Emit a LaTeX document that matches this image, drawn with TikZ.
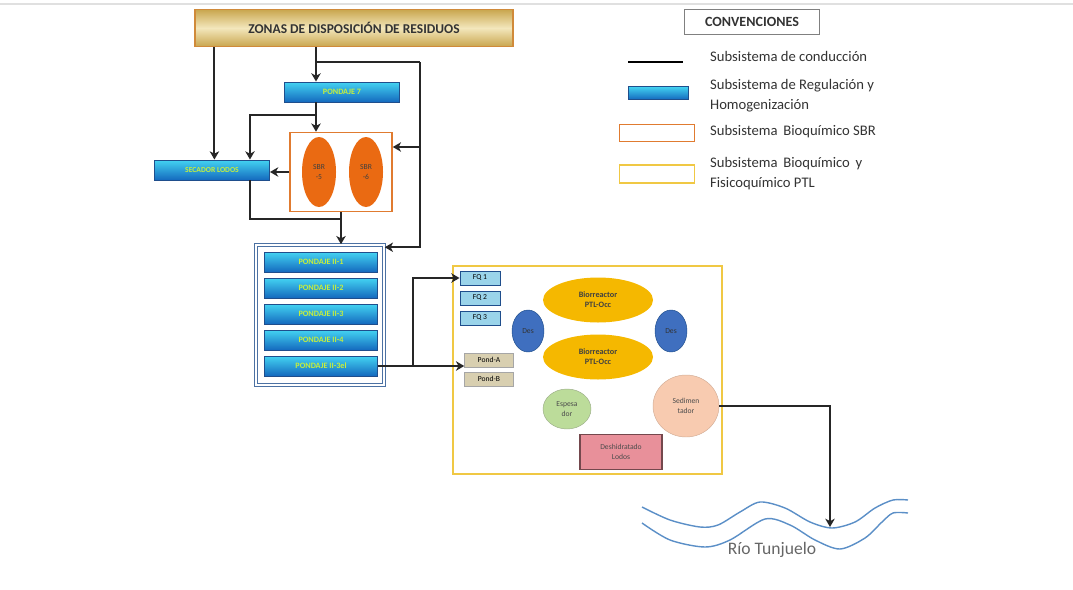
\documentclass[tikz,border=0pt]{standalone}
\usepackage{fontspec}
\setmainfont{Carlito}
\usepackage{xcolor}
\usetikzlibrary{arrows.meta,shapes,calc,positioning}
\definecolor{khakiL}{HTML}{F3E7BC}
\definecolor{khakiD}{HTML}{C9A64E}
\definecolor{titleln}{HTML}{D08A3A}
\definecolor{regTop}{HTML}{43D3F2}
\definecolor{regBot}{HTML}{1469BE}
\definecolor{regLn}{HTML}{1F4E8C}
\definecolor{regTxt}{HTML}{C6EE3C}
\definecolor{sbrLn}{HTML}{E07B30}
\definecolor{sbrFill}{HTML}{EA6A12}
\definecolor{ptlLn}{HTML}{F0C844}
\definecolor{fqFill}{HTML}{9AD4EA}
\definecolor{pondFill}{HTML}{D8CFB0}
\definecolor{bioFill}{HTML}{F5B800}
\definecolor{desFill}{HTML}{3F6FBF}
\definecolor{espFill}{HTML}{BCDC9A}
\definecolor{sedFill}{HTML}{F8CBB0}
\definecolor{deshFill}{HTML}{E8909A}
\definecolor{river}{HTML}{5B8FC7}

\tikzset{
  conn/.style={line width=1.6pt, black!85, >={Stealth[length=7pt, width=8pt, inset=2pt]}},
  regbox/.style={draw=regLn, line width=0.8pt, top color=regTop, bottom color=regBot,
    text=regTxt, font=\bfseries\fontsize{7}{8}\selectfont, inner sep=1pt},
  sbrell/.style={ellipse, fill=sbrFill, text=black!75, align=center, minimum width=1.02cm,
    minimum height=2.1cm, font=\fontsize{6.5}{8}\selectfont, inner sep=0pt},
  ptlell/.style={ellipse, align=center, inner sep=0pt, font=\fontsize{6.5}{8}\selectfont},
  smallbox/.style={minimum width=1.2cm, minimum height=0.42cm, inner sep=0pt,
    font=\fontsize{6.5}{7}\selectfont},
  legtext/.style={anchor=west, align=left, text=black!80, font=\fontsize{12.5}{17}\selectfont}
}

\begin{document}
\begin{tikzpicture}[x=0.03cm, y=-0.03cm]
\useasboundingbox (0,0) rectangle (1073,589);
\draw[black!12, line width=2pt] (0,4) -- (1073,4);

% zonas y pondaje 7
\node[draw=titleln, line width=1pt, top color=khakiD, bottom color=khakiD, middle color=khakiL,
  minimum width=9.54cm, minimum height=1.11cm, font=\bfseries\fontsize{11.5}{12}\selectfont,
  text=black!80] (zonas) at (354,28) {ZONAS DE DISPOSICIÓN DE RESIDUOS};
\node[regbox, minimum width=3.45cm, minimum height=0.6cm] (p7) at (342,92) {PONDAJE 7};

% SBR
\node[draw=sbrLn, line width=1.3pt, fill=white, minimum width=3.06cm, minimum height=2.37cm] (sbr) at (341,172) {};
\node[sbrell] (sbr5) at (319,172) {SBR\\-5};
\node[sbrell] (sbr6) at (366,172) {SBR\\-6};
\node[regbox, minimum width=3.45cm, minimum height=0.6cm, font=\bfseries\fontsize{6.5}{7}\selectfont] (secador) at (212,170) {SECADOR LODOS};

% pondajes II
\node[draw=regLn!80, line width=1.3pt, double=white, double distance=1.2pt, fill=white,
  minimum width=3.84cm, minimum height=4.2cm] (pii) at (320,315) {};
\foreach \i/\y in {1/262,2/288,3/314,4/340}
  \node[regbox, minimum width=3.39cm, minimum height=0.6cm] (pii\i) at (321,\y) {PONDAJE II-\i};
\node[regbox, minimum width=3.39cm, minimum height=0.6cm] (pii5) at (321,366) {PONDAJE II-3el};

% PTL
\node[draw=ptlLn, line width=1.8pt, minimum width=8.07cm, minimum height=6.24cm] (ptl) at (587.5,370) {};
\foreach \i/\y in {1/278,2/298,3/318}
  \node[smallbox, draw=regLn, line width=0.8pt, fill=fqFill] (fq\i) at (480,\y) {FQ \i};
\node[smallbox, minimum width=1.47cm, draw=black!35, fill=pondFill] (pA) at (489,360) {Pond-A};
\node[smallbox, minimum width=1.47cm, draw=black!35, fill=pondFill] (pB) at (489,379) {Pond-B};
\node[ptlell, fill=bioFill, minimum width=3.3cm, minimum height=1.35cm, font=\bfseries\fontsize{7}{8.5}\selectfont,
  text=black!75] (bio1) at (598,300) {Biorreactor\\PTL-Occ};
\node[ptlell, fill=bioFill, minimum width=3.3cm, minimum height=1.35cm, font=\bfseries\fontsize{7}{8.5}\selectfont,
  text=black!75] (bio2) at (598,357) {Biorreactor\\PTL-Occ};
\node[ptlell, fill=desFill, draw=regLn, minimum width=0.96cm, minimum height=1.26cm, text=black!80] (des1) at (528,331) {Des};
\node[ptlell, fill=desFill, draw=regLn, minimum width=0.96cm, minimum height=1.26cm, text=black!80] (des2) at (671,331) {Des};
\node[ptlell, fill=espFill, draw=espFill!70!black!80, minimum width=1.44cm, minimum height=1.2cm,
  text=black!70] (esp) at (567,409) {Espesa\\dor};
\node[ptlell, fill=sedFill, draw=sedFill!85!black, minimum width=1.98cm, minimum height=1.86cm,
  text=black!70] (sed) at (686,406) {Sedimen\\tador};
\node[draw=deshFill!50!black, line width=1pt, fill=deshFill, minimum width=2.46cm, minimum height=1.05cm,
  align=center, inner sep=1pt, font=\fontsize{6.5}{8}\selectfont, text=black!70] (desh) at (621,452) {Deshidratado\\Lodos};

% conexiones
\coordinate (c7) at ([xshift=-0.78cm]p7.north);
\coordinate (rt) at (420,62);
\coordinate (br) at (250,115);
\coordinate (jn) at (341,219);
\coordinate (sp) at (413,280);
\coordinate (rv) at (830,527);
\draw[conn,->] ([xshift=0.6cm]zonas.south west) -- ([xshift=0.6cm]zonas.south west |- secador.north);
\draw[conn,->] (zonas.south -| c7) -- (c7);
\draw[conn] (rt -| c7) -- (rt);
\draw[conn,->] (rt) |- ([yshift=0.75cm]sbr.east);
\draw[conn,->] (rt) |- ([yshift=-0.09cm]pii.north east);
\draw[conn,->] (c7 |- p7.south) -- (c7 |- sbr.north);
\draw[conn,->] (c7 |- br) -| ([xshift=-0.6cm]secador.north east);
\draw[conn,->] (sbr.west) -- (sbr.west -| secador.east);
\draw[conn] ([xshift=-0.6cm]secador.south east) |- (jn);
\draw[conn,->] (sbr.south) -- (sbr.south |- pii.north);
\draw[conn,->] (pii5.east) -- (pii5.east -| pA.west);
\draw[conn,->] (pii5.east -| sp) -- (sp |- fq1.west) -- (fq1.west);
\draw[conn,->] (sed.east) -| (rv);

% rio
\draw[river, line width=1.2pt] plot[smooth] coordinates {(642,507) (670,520) (700,527) (718,525) (740,512)
  (760,502) (785,508) (810,522) (832,528) (855,522) (875,508) (893,500) (908,500)};
\draw[river, line width=1.2pt] plot[smooth] coordinates {(642,523) (670,540) (705,547) (730,540) (765,519)
  (790,525) (815,540) (840,549) (865,538) (882,522) (893,513) (908,513)};
\node[text=black!60, font=\fontsize{15}{16}\selectfont] (rio) at (772,550) {Río Tunjuelo};

% convenciones
\node[draw=black!50, line width=0.8pt, minimum width=4.05cm, minimum height=0.75cm,
  font=\bfseries\fontsize{12}{13}\selectfont, text=black!80] (conv) at (752,22) {CONVENCIONES};
\coordinate (la) at (628,62);
\coordinate (lb) at (683,62);
\draw[black, line width=1.5pt] (la) -- (lb);
\node[regbox, minimum width=1.8cm, minimum height=0.39cm] (lreg) at (658,93) {};
\node[draw=sbrLn, line width=1.3pt, minimum width=2.25cm, minimum height=0.51cm] (lsbr) at (657,133) {};
\node[draw=ptlLn, line width=1.5pt, minimum width=2.25cm, minimum height=0.54cm] (lptl) at (657,174) {};
\node[legtext] (l1) at (706,56) {Subsistema de conducción};
\node[legtext] (l2) at (706,96) {Subsistema de Regulación y\\Homogenización};
\node[legtext] (l3) at (706,132) {Subsistema\, Bioquímico SBR};
\node[legtext] (l4) at (706,174) {Subsistema\, Bioquímico\, y\\Fisicoquímico PTL};
\end{tikzpicture}
\end{document}
